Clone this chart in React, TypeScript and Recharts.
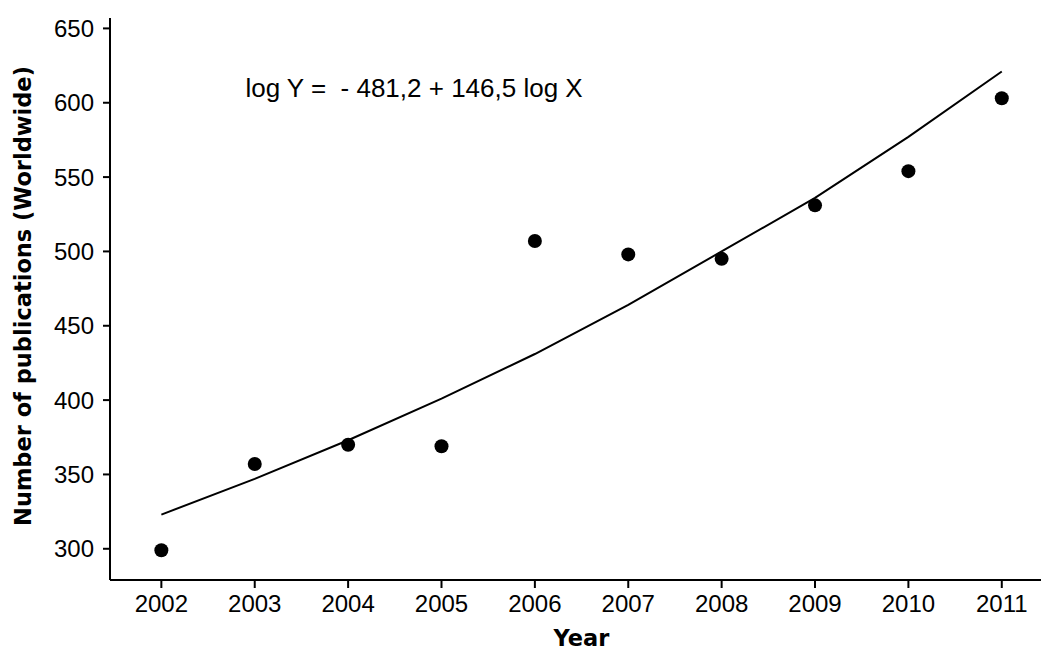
import React from "react";
import {
  ComposedChart,
  Line,
  Scatter,
  XAxis,
  YAxis,
  ReferenceDot,
  Label,
} from "recharts";

const years = [2002, 2003, 2004, 2005, 2006, 2007, 2008, 2009, 2010, 2011];
const publications = [299, 357, 370, 369, 507, 498, 495, 531, 554, 603];
const fitted = [323, 347, 373, 401, 431, 464, 500, 536, 577, 621];
const yTicks = [300, 350, 400, 450, 500, 550, 600, 650];
const xDomain = [2001.45, 2011.42];
const yDomain = [279, 657];
const equationText = "log Y =  - 481,2 + 146,5 log X";
const equationPos = { x: 2002.9, y: 610 };
const xTitle = "Year";
const yTitle = "Number of publications (Worldwide)";

const data = years.map((y, i) => ({
  year: y,
  count: publications[i],
  fit: fitted[i],
}));

const TICK_FONT = "'Liberation Sans', Arial, sans-serif";
const TITLE_FONT = "'DejaVu Sans', Verdana, sans-serif";

const YTitle = (props: any) => {
  const vb = props.viewBox || {};
  const cx = vb.x + 23;
  const cy = vb.y + vb.height / 2 - 3;
  return (
    <text
      x={cx}
      y={cy}
      transform={`rotate(-90, ${cx}, ${cy})`}
      textAnchor="middle"
      dominantBaseline="central"
      fontFamily={TITLE_FONT}
      fontWeight="bold"
      fontSize={22.5}
      fill="#000"
    >
      {yTitle}
    </text>
  );
};

const XTitle = (props: any) => {
  const vb = props.viewBox || {};
  const cx = vb.x + vb.width / 2 + 6;
  return (
    <text
      x={cx}
      y={646}
      textAnchor="middle"
      fontFamily={TITLE_FONT}
      fontWeight="bold"
      fontSize={22.5}
      fill="#000"
    >
      {xTitle}
    </text>
  );
};

const EquationLabel = (props: any) => {
  const vb = props.viewBox || {};
  const x = vb.x + (vb.width || 0) / 2;
  const y = vb.y + (vb.height || 0) / 2;
  return (
    <text
      x={x}
      y={y}
      textAnchor="start"
      dominantBaseline="central"
      fontFamily={TICK_FONT}
      fontSize={26}
      fill="#000"
      style={{ whiteSpace: "pre" }}
    >
      {equationText}
    </text>
  );
};

const Dot = (props: any) => (
  <circle cx={props.cx} cy={props.cy} r={7} fill="#000" />
);

export default function App() {
  return (
    <div style={{ position: "absolute", left: 0, top: 0, background: "#fff" }}>
      <ComposedChart
        width={1043}
        height={650}
        data={data}
        margin={{ top: 18, right: 2, bottom: 0, left: 0 }}
      >
        <XAxis
          dataKey="year"
          type="number"
          domain={xDomain}
          allowDataOverflow
          ticks={years}
          interval={0}
          height={70}
          tickSize={8}
          tickMargin={7}
          axisLine={{ stroke: "#000", strokeWidth: 2 }}
          tickLine={{ stroke: "#000", strokeWidth: 2 }}
          tick={{ fill: "#000", fontSize: 24, fontFamily: TICK_FONT }}
        >
          <Label content={XTitle} />
        </XAxis>
        <YAxis
          type="number"
          domain={yDomain}
          allowDataOverflow
          ticks={yTicks}
          interval={0}
          width={110}
          tickSize={7}
          tickMargin={9}
          axisLine={{ stroke: "#000", strokeWidth: 2 }}
          tickLine={{ stroke: "#000", strokeWidth: 2 }}
          tick={{ fill: "#000", fontSize: 24, fontFamily: TICK_FONT }}
        >
          <Label content={YTitle} />
        </YAxis>
        <Line
          dataKey="fit"
          type="linear"
          stroke="#000"
          strokeWidth={2}
          dot={false}
          activeDot={false}
          isAnimationActive={false}
        />
        <Scatter dataKey="count" shape={Dot} isAnimationActive={false} />
        <ReferenceDot
          x={equationPos.x}
          y={equationPos.y}
          r={0}
          fill="none"
          stroke="none"
          label={<EquationLabel />}
        />
      </ComposedChart>
    </div>
  );
}
